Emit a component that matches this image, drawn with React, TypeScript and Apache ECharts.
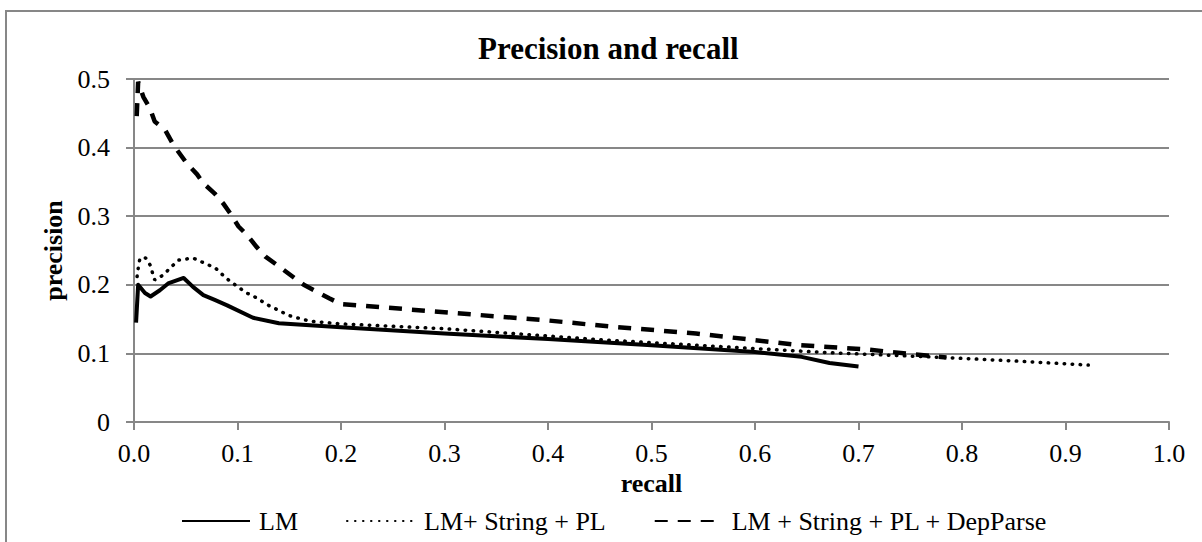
import React, { useEffect, useRef } from "react";
import * as echarts from "echarts";

const seriesNames = ["LM", "LM+ String + PL", "LM + String + PL + DepParse"];

const lmRecall = [0.002, 0.004, 0.0106, 0.016, 0.025, 0.033, 0.048, 0.057, 0.067, 0.078, 0.09, 0.115, 0.14, 0.2, 0.3, 0.4, 0.5, 0.6, 0.645, 0.672, 0.70];
const lmPrecision = [0.145, 0.2, 0.188, 0.183, 0.192, 0.202, 0.21, 0.197, 0.185, 0.178, 0.17, 0.152, 0.144, 0.138, 0.129, 0.121, 0.112, 0.102, 0.095, 0.086, 0.081];

const stringRecall = [0.003, 0.0045, 0.0058, 0.0113, 0.0155, 0.02, 0.028, 0.036, 0.043, 0.057, 0.072, 0.079, 0.0895, 0.0976, 0.109, 0.116, 0.13, 0.15, 0.17, 0.2, 0.3, 0.45, 0.6, 0.672, 0.783, 0.85, 0.922];
const stringPrecision = [0.212, 0.229, 0.239, 0.239, 0.229, 0.207, 0.214, 0.226, 0.236, 0.239, 0.229, 0.224, 0.209, 0.2, 0.188, 0.183, 0.17, 0.155, 0.147, 0.143, 0.136, 0.12, 0.107, 0.101, 0.094, 0.089, 0.083];

const depRecall = [0.0026, 0.004, 0.009, 0.0155, 0.02, 0.03, 0.038, 0.051, 0.061, 0.067, 0.078, 0.086, 0.093, 0.101, 0.109, 0.118, 0.127, 0.138, 0.164, 0.189, 0.2, 0.3, 0.4, 0.461, 0.543, 0.643, 0.706, 0.785];
const depPrecision = [0.446, 0.496, 0.474, 0.457, 0.438, 0.426, 0.404, 0.377, 0.361, 0.348, 0.333, 0.319, 0.304, 0.285, 0.273, 0.256, 0.241, 0.229, 0.2, 0.18, 0.172, 0.16, 0.148, 0.139, 0.129, 0.112, 0.106, 0.094];

const xTicks = [0, 1, 0.1];
const yTicks = [0, 0.5, 0.1];

const FONT = "Liberation Serif";
const GRAY = "#878787";

const zip = (xs: number[], ys: number[]) => xs.map((x, i) => [x, ys[i]]);

export default function App() {
  const ref = useRef<HTMLDivElement>(null);
  useEffect(() => {
    if (!ref.current) return;
    const chart = echarts.init(ref.current, null, { renderer: "svg" });
    chart.setOption({
      animation: false,
      backgroundColor: "#fff",
      textStyle: { fontFamily: FONT },
      title: {
        text: "Precision and recall",
        left: 478,
        top: 33,
        padding: 0,
        textStyle: { fontFamily: FONT, fontSize: 31, fontWeight: "bold", color: "#000" },
      },
      graphic: [
        {
          type: "rect",
          silent: true,
          shape: { x: 6, y: 11, width: 1300, height: 600 },
          style: { fill: "none", stroke: GRAY, lineWidth: 2 },
          z: -10,
        },
      ],
      grid: { left: 134, right: 33, top: 79, bottom: 120, containLabel: false },
      legend: {
        left: 181,
        top: 508,
        padding: 0,
        itemWidth: 68,
        itemHeight: 26,
        itemGap: 48,
        itemStyle: { opacity: 0, borderWidth: 0 },
        textStyle: { fontFamily: FONT, fontSize: 26, color: "#000", padding: [0, 0, 0, 4] },
        data: seriesNames,
      },
      xAxis: {
        type: "value",
        min: xTicks[0],
        max: xTicks[1],
        interval: xTicks[2],
        name: "recall",
        nameLocation: "middle",
        nameGap: 42,
        nameTextStyle: { fontFamily: FONT, fontSize: 26, fontWeight: "bold", color: "#000" },
        axisLine: { show: true, lineStyle: { color: GRAY, width: 2 } },
        axisTick: { show: true, length: 8, lineStyle: { color: GRAY, width: 2 } },
        axisLabel: {
          fontFamily: FONT,
          fontSize: 26,
          color: "#000",
          margin: 18,
          formatter: (v: number) => v.toFixed(1),
        },
        splitLine: { show: false },
      },
      yAxis: {
        type: "value",
        min: yTicks[0],
        max: yTicks[1],
        interval: yTicks[2],
        name: "precision",
        nameLocation: "middle",
        nameGap: 61,
        nameTextStyle: { fontFamily: FONT, fontSize: 26, fontWeight: "bold", color: "#000" },
        axisLine: { show: true, lineStyle: { color: GRAY, width: 2 } },
        axisTick: { show: true, length: 8, lineStyle: { color: GRAY, width: 2 } },
        axisLabel: { fontFamily: FONT, fontSize: 26, color: "#000", margin: 24 },
        splitLine: { show: true, lineStyle: { color: GRAY, width: 2 } },
      },
      series: [
        {
          name: seriesNames[0],
          type: "line",
          symbol: "none",
          data: zip(lmRecall, lmPrecision),
          lineStyle: { color: "#000", width: 4, type: "solid", join: "round" },
          itemStyle: { color: "#000" },
        },
        {
          name: seriesNames[1],
          type: "line",
          symbol: "none",
          data: zip(stringRecall, stringPrecision),
          lineStyle: { color: "#000", width: 3.5, type: [0.5, 7.5], cap: "round" },
          itemStyle: { color: "#000" },
        },
        {
          name: seriesNames[2],
          type: "line",
          symbol: "none",
          data: zip(depRecall, depPrecision),
          lineStyle: { color: "#000", width: 4.5, type: [13, 10], cap: "butt" },
          itemStyle: { color: "#000" },
        },
      ],
    });
    return () => chart.dispose();
  }, []);
  return (
    <div
      ref={ref}
      style={{ position: "absolute", left: 0, top: 0, width: 1202, height: 542 }}
    />
  );
}
